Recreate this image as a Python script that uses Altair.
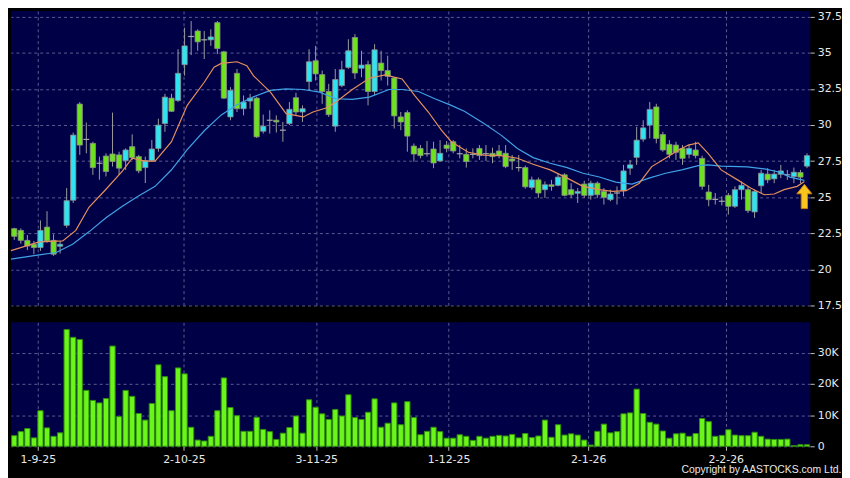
import altair as alt
import pandas as pd

# ---- OHLC ----
opens = [22.82, 22.70, 22.01, 21.74, 21.51, 22.93, 22.01, 21.60, 23.05, 24.79,
         31.45, 29.00, 28.73, 27.35, 27.85, 27.99, 27.93, 27.53, 28.50, 27.81,
         27.05, 27.53, 28.38, 30.10, 31.86, 31.70, 34.18, 36.13, 36.51, 35.90,
         35.90, 37.09, 35.07, 30.56, 33.58, 31.13, 31.66, 31.86, 29.57, 30.33,
         30.33, 29.64, 30.10, 31.89, 30.90, 33.01, 34.45, 33.49, 32.32, 29.92,
         32.73, 33.99, 36.06, 33.93, 34.18, 32.32, 34.29, 33.77, 33.26, 30.56,
         30.86, 28.54, 28.38, 28.01, 28.34, 27.51, 28.61, 28.84, 28.01, 27.97,
         27.97, 28.38, 28.01, 28.04, 28.20, 28.04, 27.65, 27.05, 27.05, 25.68,
         26.20, 25.52, 25.86, 25.82, 26.55, 25.52, 25.27, 25.91, 25.13, 25.97,
         25.40, 24.83, 25.29, 25.45, 27.01, 27.76, 29.02, 29.99, 31.25, 29.34,
         28.66, 28.61, 28.38, 27.97, 28.27, 27.69, 25.36, 24.85, 24.72, 25.13,
         24.37, 25.52, 25.52, 23.98, 25.79, 26.60, 26.27, 26.59, 26.55, 26.43,
         26.71, 27.15]
highs = [22.88, 22.84, 22.38, 21.97, 23.39, 24.03, 22.43, 21.97, 25.63, 29.48,
         31.59, 30.17, 28.84, 27.81, 28.04, 30.86, 28.15, 28.38, 29.35, 27.93,
         27.81, 28.96, 30.44, 32.16, 32.16, 35.25, 36.74, 37.20, 36.63, 36.51,
         36.63, 37.20, 35.14, 32.62, 33.88, 32.05, 32.16, 31.95, 30.72, 31.02,
         30.67, 30.21, 31.59, 32.23, 31.36, 35.25, 35.48, 33.77, 32.85, 33.88,
         34.45, 35.94, 36.29, 35.14, 34.45, 35.60, 35.14, 34.80, 33.31, 30.90,
         31.02, 28.72, 28.61, 28.89, 28.84, 28.95, 28.89, 28.95, 28.61, 28.38,
         28.38, 28.61, 28.61, 28.43, 28.61, 28.61, 27.92, 27.92, 27.19, 26.43,
         26.36, 26.09, 26.20, 26.66, 26.66, 25.97, 25.63, 26.14, 26.14, 26.09,
         25.63, 25.52, 25.75, 27.24, 27.58, 29.87, 30.33, 31.59, 31.47, 29.53,
         28.95, 28.84, 28.61, 28.66, 28.84, 27.88, 25.86, 25.29, 25.06, 25.29,
         25.75, 26.09, 25.75, 25.52, 26.89, 27.01, 26.89, 27.24, 26.89, 27.05,
         26.89, 28.04]
lows = [22.04, 21.78, 21.33, 21.05, 21.28, 21.85, 20.94, 21.10, 22.88, 24.60,
        27.93, 28.04, 26.55, 26.21, 26.44, 27.12, 26.55, 26.89, 27.58, 26.66,
        25.98, 27.47, 28.15, 29.53, 30.90, 31.60, 33.42, 34.84, 35.14, 34.57,
        35.48, 34.91, 31.80, 30.33, 30.90, 30.67, 31.13, 29.10, 29.41, 29.41,
        29.48, 28.84, 29.99, 30.67, 30.21, 32.39, 33.08, 31.47, 30.56, 29.53,
        32.62, 33.88, 33.19, 33.31, 31.36, 32.05, 33.08, 32.73, 29.76, 29.64,
        28.15, 27.46, 27.69, 27.81, 27.01, 27.47, 28.11, 28.04, 27.69, 27.05,
        27.69, 27.58, 27.51, 27.35, 27.69, 27.01, 26.89, 26.78, 25.59, 25.52,
        24.95, 24.95, 25.45, 25.75, 25.06, 24.95, 24.60, 24.95, 24.83, 24.95,
        24.49, 24.72, 24.49, 25.06, 26.55, 27.24, 28.84, 29.07, 28.73, 28.15,
        27.69, 27.58, 27.24, 27.69, 27.69, 25.52, 24.37, 24.49, 24.43, 23.80,
        24.26, 24.83, 23.91, 23.57, 25.29, 25.97, 25.97, 26.32, 26.20, 25.97,
        25.97, 27.01]
closes = [22.29, 22.01, 21.62, 21.51, 22.70, 21.97, 21.05, 21.74, 24.76, 29.30,
          28.61, 29.00, 27.05, 27.35, 26.78, 27.47, 27.01, 28.27, 27.74, 26.83,
          27.53, 28.34, 29.99, 31.93, 30.95, 33.58, 35.48, 36.13, 35.76, 35.90,
          36.10, 35.30, 31.86, 32.39, 31.13, 31.59, 31.86, 29.18, 29.92, 30.33,
          30.21, 29.64, 31.09, 30.90, 31.13, 34.38, 33.54, 32.32, 30.72, 33.15,
          33.83, 35.14, 33.60, 34.15, 32.32, 35.21, 33.77, 33.37, 30.63, 30.21,
          29.23, 27.99, 27.88, 28.01, 27.37, 28.04, 28.38, 28.20, 28.01, 27.47,
          27.97, 27.88, 28.01, 27.81, 27.88, 27.12, 27.51, 27.05, 25.72, 26.20,
          25.29, 25.86, 25.75, 26.39, 25.13, 25.17, 25.40, 25.13, 25.97, 25.17,
          24.99, 25.22, 25.29, 26.82, 27.24, 28.95, 29.80, 31.08, 29.07, 28.27,
          27.97, 28.11, 27.69, 28.38, 27.88, 25.75, 24.83, 24.85, 24.72, 24.37,
          25.52, 25.82, 24.07, 25.40, 26.66, 26.20, 26.60, 26.82, 26.55, 26.73,
          26.39, 27.88]
# volume in thousands of shares
volumes_k = [3.4, 4.7, 5.7, 2.7, 11.4, 5.9, 3.2, 4.3, 37.4, 34.9,
             34.2, 17.9, 14.7, 13.9, 15.3, 32.1, 9.5, 17.9, 16.0, 10.5,
             8.4, 13.7, 26.1, 22.3, 11.4, 25.1, 23.2, 6.1, 2.0, 1.7,
             3.2, 11.4, 21.9, 12.4, 9.8, 4.8, 4.8, 9.3, 5.4, 4.7,
             2.2, 4.2, 6.0, 9.7, 4.2, 14.9, 12.5, 10.4, 8.6, 11.8,
             9.7, 16.5, 9.2, 8.6, 10.9, 15.2, 6.1, 7.4, 13.9, 6.9,
             14.3, 9.2, 3.7, 4.8, 6.1, 4.7, 2.6, 2.6, 3.7, 3.2,
             1.9, 3.2, 2.6, 3.2, 3.5, 3.3, 3.8, 2.7, 4.1, 2.8,
             3.3, 8.4, 2.9, 6.9, 3.6, 4.0, 3.6, 2.0, 0.4, 4.8,
             7.1, 4.3, 4.7, 10.4, 10.7, 18.3, 10.5, 7.7, 7.1, 4.9,
             2.6, 4.0, 4.2, 3.2, 4.1, 8.9, 7.9, 3.2, 3.5, 5.3,
             3.6, 3.4, 3.4, 4.5, 3.2, 2.3, 2.2, 2.2, 2.3, 0.2,
             0.5, 0.5]

# ---- moving averages (position index, value) ----
ma10_idx = [-0.5, 3.8, 7.4, 9.4, 11.4, 13.9, 16.5, 18.0, 20.0, 21.5, 24.0, 26.4,
            29.0, 30.5, 31.6, 34.0, 35.5, 36.5, 39.1, 41.5, 44.1, 45.6, 47.6, 49.1,
            51.6, 54.2, 56.6, 59.2, 61.1, 63.2, 65.2, 66.7, 69.3, 71.7, 74.3, 76.8,
            79.2, 81.8, 84.4, 86.8, 89.3, 91.3, 93.4, 95.4, 97.3, 99.4, 101.4, 102.9,
            104.4, 105.9, 107.9, 110.4, 112.4, 114.5, 116.0, 117.5, 119.5, 120.6]
ma10_val = [21.3, 21.9, 21.97, 22.7, 24.3, 25.5, 26.8, 27.7, 27.5, 27.5, 28.84, 31.36,
            32.96, 34.0, 34.27, 34.38, 34.11, 33.42, 32.28, 30.79, 30.56, 30.9, 31.18, 31.59,
            32.46, 33.24, 33.47, 33.19, 32.05, 30.9, 29.64, 28.84, 28.11, 27.92, 27.88, 27.7,
            27.28, 26.89, 26.32, 25.75, 25.52, 25.4, 25.45, 25.97, 27.12, 27.69, 28.27, 28.61,
            28.76, 28.04, 26.89, 26.2, 25.63, 25.17, 25.22, 25.52, 25.75, 26.09]
ma20_idx = [-0.5, 3.8, 6.4, 8.9, 11.4, 14.0, 16.5, 18.9, 21.5, 24.0, 26.4, 29.0,
            31.6, 34.0, 36.5, 39.1, 41.5, 44.1, 46.6, 49.1, 51.6, 54.2, 57.2, 59.2,
            61.7, 64.2, 66.7, 68.7, 71.7, 74.3, 76.8, 79.2, 81.8, 84.4, 86.8, 89.3,
            91.8, 94.3, 96.9, 99.4, 101.9, 104.4, 105.9, 107.9, 111.9, 114.5, 116.9, 118.4,
            120.6]
ma20_val = [20.71, 21.0, 21.17, 21.74, 22.6, 23.57, 24.37, 25.06, 25.75, 26.9, 28.3, 29.6,
            30.7, 31.4, 31.95, 32.4, 32.5, 32.46, 32.28, 31.82, 31.77, 31.93, 32.46, 32.46,
            32.32, 31.82, 31.36, 30.95, 30.1, 29.3, 28.38, 27.74, 27.35, 27.05, 26.66, 26.4,
            26.04, 25.91, 26.32, 26.66, 26.89, 27.19, 27.24, 27.15, 27.1, 26.96, 26.73, 26.39,
            26.16]

# ---- axes ----
tick_idx = [3.6, 25.9, 46.1, 66.3, 87.6, 108.6]
tick_labels = ["1-9-25", "2-10-25", "3-11-25", "1-12-25", "2-1-26", "2-2-26"]
price_ticks = [17.5, 20, 22.5, 25, 27.5, 30, 32.5, 35, 37.5]
vol_ticks = [0, 10, 20, 30]
arrow_idx = [120.6]
arrow_price = [25.05]

CYAN = "#2fe4f0"
GREEN = "#6ee21e"
VOLGREEN = "#6cf51a"
GRID = "#5c5c92"
TXT = "#e8e8e8"

n = len(closes)
df = pd.DataFrame({
    "idx": list(range(n)),
    "open": opens, "high": highs, "low": lows, "close": closes,
    "vol": volumes_k,
})
ma10 = pd.DataFrame({"idx": ma10_idx, "val": ma10_val})
ma20 = pd.DataFrame({"idx": ma20_idx, "val": ma20_val})
arrow_df = pd.DataFrame({"idx": arrow_idx, "price": arrow_price})

xdom = alt.Scale(domain=[-0.5, n - 0.5], nice=False, zero=False)
ydom = alt.Scale(domain=[17.5, 37.9], nice=False, zero=False)

label_expr = " : ".join(
    f"datum.value == {p} ? '{l}'" for p, l in zip(tick_idx, tick_labels)
) + " : ''"

price_axis = alt.Axis(orient="right", values=price_ticks, labelExpr="'' + datum.value",
                      labelOverlap=False, grid=True, tickSize=4, labelPadding=3,
                      domain=False, title=None)
x_top_axis = alt.Axis(values=tick_idx, grid=True, labels=False, ticks=False,
                      domain=False, title=None)

wicks = alt.Chart(df).mark_rule(color="#9c9c9c", strokeWidth=1).encode(
    x=alt.X("idx:Q", scale=xdom, title=None, axis=x_top_axis),
    y=alt.Y("low:Q", scale=ydom, title=None, axis=price_axis),
    y2="high:Q")

bodies = alt.Chart(df).transform_filter("datum.open != datum.close").transform_calculate(
    x1="datum.idx - 0.4", x2="datum.idx + 0.4"
).mark_rect(stroke="#8e8e8e", strokeWidth=0.8).encode(
    x=alt.X("x1:Q", title=None, axis=x_top_axis), x2="x2:Q",
    y=alt.Y("open:Q", title=None, axis=price_axis), y2="close:Q",
    fill=alt.condition("datum.close > datum.open", alt.value(CYAN), alt.value(GREEN)),
)

doji = alt.Chart(df).transform_filter("datum.open == datum.close").transform_calculate(
    x1="datum.idx - 0.45", x2="datum.idx + 0.45"
).mark_rule(color="#a8a8a8", strokeWidth=1.2).encode(
    x=alt.X("x1:Q", title=None, axis=x_top_axis), x2="x2:Q",
    y=alt.Y("close:Q", title=None, axis=price_axis))

line10 = alt.Chart(ma10).mark_line(color="#e58f5c", strokeWidth=1.2).encode(
    x=alt.X("idx:Q", title=None, axis=x_top_axis),
    y=alt.Y("val:Q", title=None, axis=price_axis))
line20 = alt.Chart(ma20).mark_line(color="#3fa2e6", strokeWidth=1.2).encode(
    x=alt.X("idx:Q", title=None, axis=x_top_axis),
    y=alt.Y("val:Q", title=None, axis=price_axis))

ARROW = "M0,-1 L0.62,-0.22 L0.26,-0.22 L0.26,1 L-0.26,1 L-0.26,-0.22 L-0.62,-0.22 Z"
arrow = alt.Chart(arrow_df).mark_point(
    shape=ARROW, size=600, filled=True, fill="#f9c41e", stroke="#c98400",
    strokeWidth=1, opacity=1
).encode(x=alt.X("idx:Q", title=None, axis=x_top_axis),
         y=alt.Y("price:Q", title=None, axis=price_axis))

price = alt.layer(wicks, bodies, doji, line20, line10, arrow).properties(
    width=806, height=297)

vol = alt.Chart(df).transform_calculate(
    x1="datum.idx - 0.4", x2="datum.idx + 0.4"
).mark_rect(fill=VOLGREEN, stroke="#2f8f0c", strokeWidth=1).encode(
    x=alt.X("x1:Q", scale=xdom, title=None,
            axis=alt.Axis(values=tick_idx, labelExpr=label_expr, grid=True,
                          ticks=True, tickSize=4, labelPadding=3, domain=False,
                          title=None, labelFlush=False, labelOverlap=False)),
    x2="x2:Q",
    y=alt.Y("vol:Q", scale=alt.Scale(domain=[0, 39.7], nice=False), title=None,
            axis=alt.Axis(orient="right", values=vol_ticks, grid=True, tickSize=4,
                          labelPadding=3, domain=False, title=None, labelOverlap=False,
                          labelExpr="datum.value == 0 ? '0' : datum.value + 'K'")),
    y2=alt.datum(0),
).properties(width=806, height=125)

chart = alt.vconcat(price, vol, spacing=12).properties(
    background="#000000",
    padding=0,
    title=alt.TitleParams(
        text="Copyright by AASTOCKS.com Ltd.", orient="bottom", anchor="end",
        color=TXT, font="Liberation Sans", fontSize=10.5, fontWeight="normal",
        offset=1),
).configure_view(fill="#000046", stroke=None).configure_axis(
    labelColor=TXT, labelFont="DejaVu Sans", labelFontSize=11,
    tickColor="#bdbdbd", gridColor=GRID, gridDash=[3, 3], gridWidth=1,
    domain=False,
)

chart.save("out.html", embed_options={"renderer": "svg", "actions": False})
